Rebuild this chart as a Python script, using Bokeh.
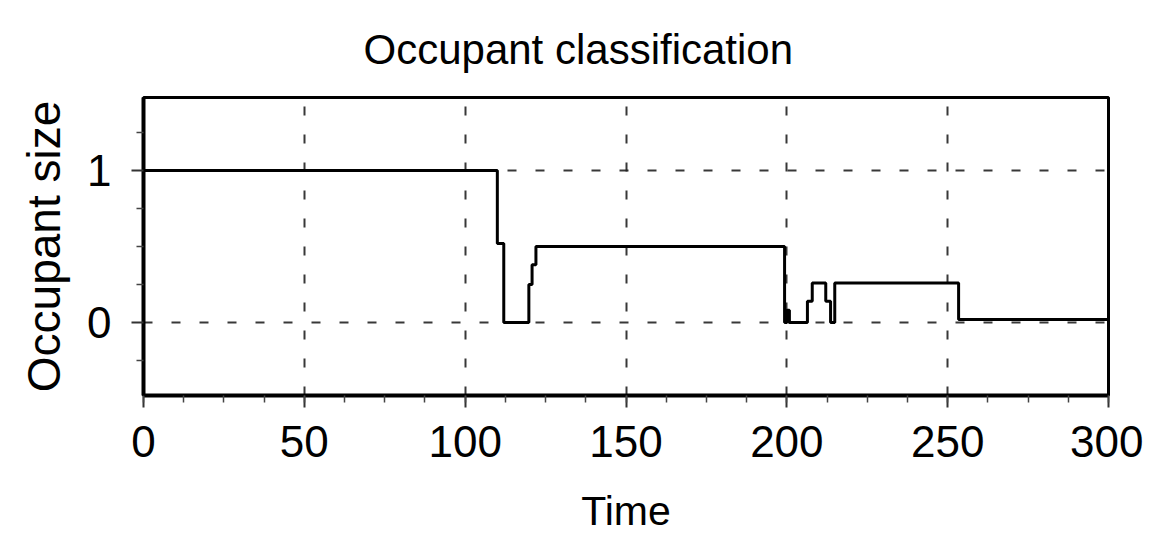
from bokeh.plotting import figure
from bokeh.models import Range1d, SingleIntervalTicker, FixedTicker
from bokeh.embed import file_html
from bokeh.resources import INLINE

# Occupant size (step signal) over time
time = [0, 110.0, 112.0, 119.8, 120.8, 122.0, 199.3, 200.0, 200.8, 206.4, 207.9, 212.1, 213.6, 214.9, 253.4, 300]
size = [1.0, 0.52, 0.0, 0.25, 0.38, 0.5, 0.0, 0.08, 0.0, 0.14, 0.26, 0.14, 0.0, 0.26, 0.02, 0.02]

x_major = 50
y_ticks = [0, 1]
y_minor = [-0.5, -0.25, 0.25, 0.5, 0.75, 1.25]

FONT = "Liberation Sans"

p = figure(width=1143, height=537, output_backend="svg", toolbar_location=None,
           x_range=Range1d(0, 300), y_range=Range1d(-0.48, 1.48),
           min_border_left=143, min_border_right=35, min_border_top=97, min_border_bottom=142,
           title="Occupant classification")

p.step(time, size, mode="after", line_color="black", line_width=3)

# title
p.title.text_font = FONT
p.title.text_font_size = "42px"
p.title.text_font_style = "normal"
p.title.text_color = "black"
p.title.align = "left"
p.title.offset = 220
p.title.standoff = 46
p.title.vertical_align = "top"

# x axis
p.xaxis.ticker = SingleIntervalTicker(interval=x_major, num_minor_ticks=4)
p.xgrid.ticker = SingleIntervalTicker(interval=x_major)
p.xaxis.axis_label = "Time"
# y axis
p.yaxis.ticker = FixedTicker(ticks=y_ticks, minor_ticks=y_minor)
p.ygrid.ticker = FixedTicker(ticks=y_ticks)
p.yaxis.axis_label = "Occupant size"

for ax in (p.xaxis, p.yaxis):
    ax.axis_line_width = 4
    ax.axis_line_color = "black"
    ax.major_tick_out = 12
    ax.major_tick_in = 0
    ax.minor_tick_out = 7
    ax.minor_tick_in = 0
    ax.major_tick_line_width = 2
    ax.minor_tick_line_width = 1.5
    ax.major_tick_line_color = "#333333"
    ax.minor_tick_line_color = "#444444"
    ax.major_label_text_font = FONT
    ax.major_label_text_font_size = "44px"
    ax.major_label_text_color = "black"
    ax.axis_label_text_font = FONT
    ax.axis_label_text_font_style = "normal"
    ax.axis_label_text_color = "black"

p.xaxis.major_label_standoff = 18
p.xaxis.axis_label_text_font_size = "41px"
p.xaxis.axis_label_standoff = 28
p.yaxis.major_label_standoff = 20
p.yaxis.axis_label_text_font_size = "46px"
p.yaxis.axis_label_standoff = 14

for g in (p.xgrid, p.ygrid):
    g.grid_line_color = "#222222"
    g.grid_line_width = 2
    g.grid_line_dash = "9 19"
    g.grid_line_alpha = 0.9

p.outline_line_color = "black"
p.outline_line_width = 3
p.outline_line_alpha = 1.0
p.background_fill_color = "white"
p.border_fill_color = "white"

open("out.html", "w").write(file_html(p, INLINE))
